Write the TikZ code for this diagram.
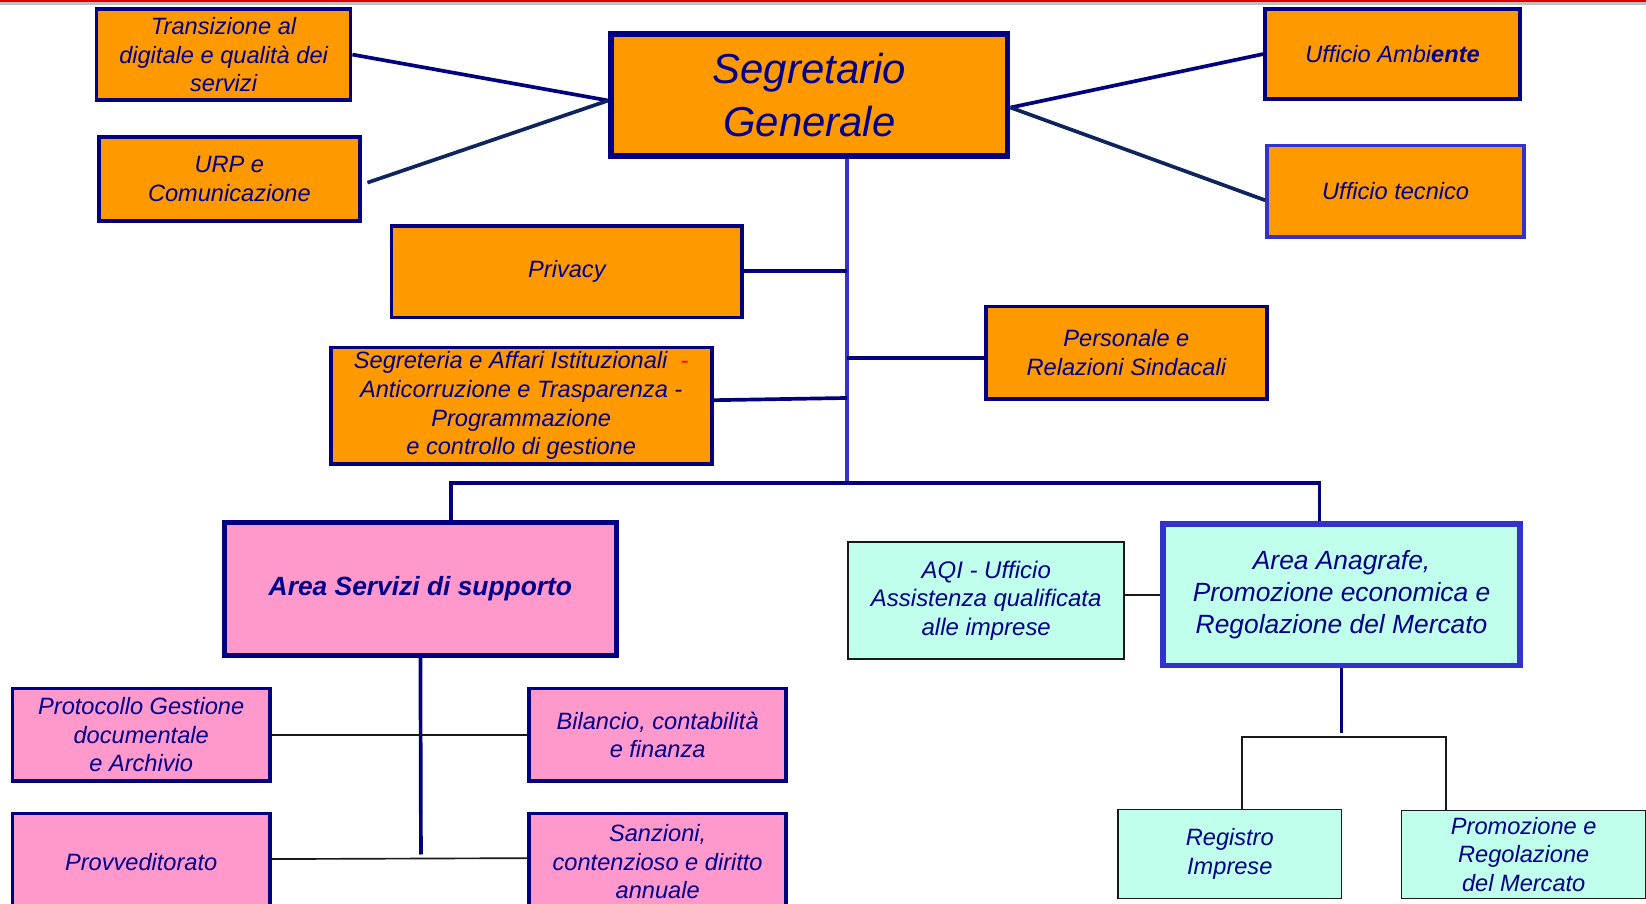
\documentclass[tikz,border=0pt]{standalone}
\usepackage{fontspec}
\setmainfont{Liberation Sans}
\usetikzlibrary{positioning}

\definecolor{orgfill}{RGB}{255,153,0}
\definecolor{pinkfill}{RGB}{255,153,204}
\definecolor{mintfill}{RGB}{192,255,236}
\definecolor{navy}{RGB}{0,0,128}
\definecolor{bluebord}{RGB}{51,51,204}
\definecolor{txtblue}{RGB}{0,0,140}
\definecolor{darknavy}{RGB}{14,36,92}

\begin{document}
\begin{tikzpicture}[x=0.02cm, y=-0.02cm,
  sz/.style 2 args={minimum width=#1*0.2mm, minimum height=#2*0.2mm},
  box/.style={draw, inner sep=0pt, align=center, text=txtblue,
    font=\itshape\fontsize{12.8}{15.5}\selectfont},
  orgbox/.style={box, fill=orgfill, draw=navy, line width=2pt},
  pinkbox/.style={box, fill=pinkfill, draw=navy, line width=2pt},
  mintbox/.style={box, fill=mintfill, draw=black!90, line width=0.9pt},
  navyline/.style={draw=navy, line width=2pt},
  darkline/.style={draw=darknavy, line width=2pt},
  trunkline/.style={draw=bluebord, line width=2.2pt},
  thinline/.style={draw=black!90, line width=0.9pt}]

  %%%%% FRAME %%%%%
  \useasboundingbox (0,0) rectangle (1568,861);
  \clip (0,0) rectangle (1568,861);
  \fill[white] (0,0) rectangle (1568,861);
  \fill[black!25] (0,1.5) rectangle (1568,5);
  \fill[red!85!black] (0,0) rectangle (1568,1.8);

  %%%%% SEGRETARIO %%%%%
  \node[orgbox, line width=3pt, sz={378}{116},
    font=\itshape\fontsize{22.7}{28.3}\selectfont] (seg) at (771,90.5) {Segretario\\Generale};

  \node[orgbox, sz={242}{87}] (trans) at (213,52) {Transizione al\\digitale e qualità dei\\servizi};
  \node[orgbox, sz={249}{80}] (urp) at (218.5,170.5) {URP e\\Comunicazione};
  \node[orgbox, sz={243}{86}] (amb) at (1326.5,51.5) {Ufficio Ambi\textbf{ente}};
  \node[orgbox, draw=bluebord, sz={245}{87}] (tec) at (1329.5,182) {Ufficio tecnico};

  \node[orgbox, sz={334}{87}] (priv) at (540,259) {Privacy};
  \node[orgbox, sz={363}{111}] (sai) at (496.5,386.5)
    {Segreteria e Affari Istituzionali \ {\color{red}-}\\Anticorruzione e Trasparenza -\\Programmazione\\e controllo di gestione};
  \node[orgbox, sz={268}{88}] (pers) at (1073,336) {Personale e\\Relazioni Sindacali};

  \draw[navyline] (trans.east) -- ([yshift=-3pt]seg.west);
  \draw[darkline] ([xshift=3pt,yshift=-2pt]urp.east) -- ([yshift=-3pt]seg.west);
  \draw[navyline] (amb.west) -- ([yshift=-6.8pt]seg.east);
  \draw[darkline] ([yshift=-5pt]tec.west) -- ([yshift=-6.8pt]seg.east);

  %%%%% TRUNK %%%%%
  \coordinate (bar) at (807,460);
  \draw[trunkline] (seg.south -| bar) -- (bar);
  \draw[navyline] ([yshift=0.5pt]priv.east) -- ([yshift=0.5pt]priv.east -| bar);
  \draw[navyline] ([yshift=-3pt]pers.west) -- ([yshift=-3pt]pers.west -| bar);
  \draw[navyline] ([yshift=3pt]sai.east) -- ([yshift=4.2pt]sai.east -| bar);

  %%%%% AREE %%%%%
  \node[pinkbox, line width=2.7pt, sz={373}{126},
    font=\bfseries\itshape\fontsize{14.3}{17.3}\selectfont] (ass) at (400.5,561) {Area Servizi di supporto};
  \node[mintbox, line width=3pt, draw=bluebord, sz={340}{135},
    font=\itshape\fontsize{14.3}{17.3}\selectfont] (ana) at (1278,566.5)
    {Area Anagrafe,\\Promozione economica e\\Regolazione del Mercato};
  \node[mintbox, sz={263}{112}, font=\itshape\fontsize{13}{15.4}\selectfont] (aqi) at (939.5,572)
    {AQI - Ufficio\\Assistenza qualificata\\alle imprese};

  \draw[navyline] ([xshift=16.7pt]ass.north) |- (bar) -| ([xshift=-11.9pt]ana.north);
  \draw[thinline] (ana.west) -- (ana.west -| aqi.east);

  %%%%% SERVIZI DI SUPPORTO %%%%%
  \node[pinkbox, sz={245}{88}] (prot) at (134.5,700) {Protocollo Gestione\\documentale\\e Archivio};
  \node[pinkbox, sz={245}{88}] (bil) at (626.5,700) {Bilancio, contabilità\\e finanza};
  \node[pinkbox, sz={245}{92}] (prov) at (134.5,821) {Provveditorato};
  \node[pinkbox, sz={245}{92}] (sanz) at (626.5,821) {Sanzioni,\\contenzioso e diritto\\annuale};

  \coordinate (assend) at (401,814);
  \draw[navyline] (ass.south) -- (assend);
  \draw[thinline] (prot.east) -- (bil.west);
  \draw[thinline] ([yshift=1.5pt]prov.east) -- ([yshift=2pt]sanz.west);

  %%%%% ANAGRAFE %%%%%
  \node[mintbox, sz={213}{85}] (reg) at (1171.5,813.5) {Registro\\Imprese};
  \node[mintbox, sz={233}{84}] (prm) at (1451.5,814) {Promozione e\\Regolazione\\del Mercato};

  \coordinate (fork) at (1278,702);
  \draw[navyline] (ana.south) -- ([yshift=2pt]fork);
  \draw[thinline] ([xshift=6.5pt]reg.north) |- (fork) -| ([xshift=-42.2pt]prm.north);

\end{tikzpicture}
\end{document}
